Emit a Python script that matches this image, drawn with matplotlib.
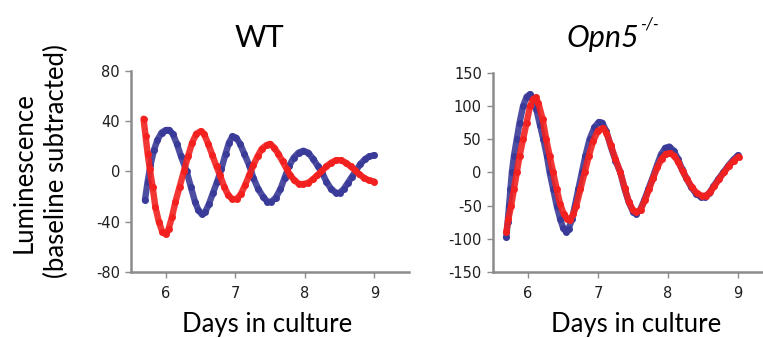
import matplotlib
matplotlib.use("Agg")
import matplotlib.pyplot as plt

plt.rcParams['font.family'] = ['Lato', 'DejaVu Sans']
plt.rcParams['axes.unicode_minus'] = False

# WT, blue trace
wt_blue_day = [5.70, 5.74, 5.78, 5.83, 5.88, 5.94, 6.00, 6.05, 6.10, 6.16, 6.22, 6.30, 6.36, 6.42,
               6.47, 6.52, 6.57, 6.62, 6.68, 6.74, 6.80, 6.86, 6.91, 6.96, 7.01, 7.07, 7.13, 7.20,
               7.26, 7.33, 7.40, 7.46, 7.52, 7.58, 7.65, 7.71, 7.77, 7.84, 7.91, 7.98, 8.05, 8.12,
               8.19, 8.25, 8.31, 8.38, 8.45, 8.50, 8.56, 8.62, 8.68, 8.74, 8.80, 8.87, 8.93, 9.00]
wt_blue_val = [-23, -8, 5, 17, 25, 31, 33, 33, 30, 22, 12, 0, -12, -24,
               -31, -34, -32, -26, -17, -8, 2, 14, 23, 28, 27, 22, 14, 5,
               -5, -14, -20, -24, -24, -21, -14, -5, 4, 11, 15, 16.5, 15, 10,
               4, -1, -8, -14, -17, -17, -14, -9, -4, 1, 6, 10, 12, 13]

# WT, red trace
wt_red_day = [5.68, 5.71, 5.74, 5.77, 5.81, 5.85, 5.90, 5.95, 6.00, 6.04, 6.09, 6.14, 6.20, 6.26,
              6.32, 6.38, 6.44, 6.50, 6.55, 6.61, 6.67, 6.73, 6.78, 6.84, 6.90, 6.96, 7.02, 7.08,
              7.14, 7.20, 7.26, 7.32, 7.38, 7.45, 7.50, 7.56, 7.62, 7.68, 7.74, 7.79, 7.85, 7.92,
              7.98, 8.05, 8.12, 8.18, 8.24, 8.31, 8.38, 8.45, 8.52, 8.59, 8.66, 8.72, 8.78, 8.85,
              8.92, 9.00]
wt_red_val = [42, 28, 14, 2, -12, -28, -40, -48, -50, -46, -36, -24, -12, 0,
              12, 23, 30, 32, 30, 22, 13, 4, -3, -12, -19, -22, -22, -18,
              -11, -3, 5, 12, 18, 21, 22, 19, 14, 8, 2, -3, -7, -10,
              -10, -9, -6, -3, 0, 4, 7, 9, 9, 7, 4, 1, -2, -5,
              -7, -8]

# Opn5-/-, blue trace
ko_blue_day = [5.69, 5.71, 5.73, 5.75, 5.77, 5.80, 5.84, 5.88, 5.93, 5.98, 6.03, 6.07, 6.12, 6.17,
               6.22, 6.27, 6.31, 6.36, 6.41, 6.46, 6.50, 6.54, 6.58, 6.63, 6.67, 6.72, 6.77, 6.82,
               6.88, 6.95, 7.01, 7.06, 7.12, 7.18, 7.25, 7.32, 7.38, 7.44, 7.50, 7.54, 7.60, 7.66,
               7.72, 7.78, 7.84, 7.90, 7.96, 8.02, 8.08, 8.14, 8.20, 8.26, 8.33, 8.40, 8.47, 8.53,
               8.59, 8.65, 8.72, 8.79, 8.86, 8.93, 9.00]
ko_blue_val = [-98, -75, -50, -25, 0, 25, 50, 75, 100, 114, 118, 112, 95, 72,
               50, 25, 0, -25, -50, -70, -83, -89, -85, -70, -50, -25, 0, 25,
               50, 68, 76, 75, 62, 40, 18, 0, -25, -45, -59, -62, -57, -42,
               -25, -8, 10, 27, 37, 39, 33, 21, 5, -8, -22, -32, -37, -37,
               -31, -21, -10, 0, 10, 19, 26]

# Opn5-/-, red trace
ko_red_day = [5.69, 5.72, 5.76, 5.80, 5.84, 5.88, 5.93, 5.98, 6.03, 6.07, 6.11, 6.15, 6.21, 6.26,
              6.31, 6.36, 6.41, 6.46, 6.51, 6.56, 6.60, 6.65, 6.69, 6.75, 6.81, 6.87, 6.93, 7.00,
              7.07, 7.12, 7.18, 7.25, 7.32, 7.38, 7.44, 7.50, 7.55, 7.61, 7.67, 7.73, 7.79, 7.85,
              7.91, 7.97, 8.03, 8.09, 8.15, 8.21, 8.27, 8.34, 8.41, 8.48, 8.54, 8.60, 8.66, 8.73,
              8.80, 8.87, 8.94, 9.01]
ko_red_val = [-90, -70, -50, -25, 0, 25, 50, 75, 100, 110, 113, 104, 80, 50,
              25, 0, -25, -48, -62, -70, -72, -62, -50, -25, 0, 25, 47, 63,
              67, 60, 42, 20, 0, -23, -44, -57, -60, -56, -42, -25, -8, 8,
              21, 28, 29, 25, 15, 2, -10, -22, -31, -35, -35, -30, -21, -10,
              0, 10, 18, 24]

day_ticks = [6, 7, 8, 9]
wt_yticks = [-80, -40, 0, 40, 80]
ko_yticks = [-150, -100, -50, 0, 50, 100, 150]

blue = '#3a3a98'
red = '#f2211f'
axis_col = '#8c8c8c'

fig = plt.figure(figsize=(7.63, 3.38), dpi=100)
ax1 = fig.add_axes([0.1717, 0.1953, 0.3644, 0.5947])
ax2 = fig.add_axes([0.6461, 0.1953, 0.367, 0.589])


def style(ax, yticks):
    ax.set_xlim(5.5, 9.5)
    ax.set_ylim(yticks[0], yticks[-1])
    ax.set_xticks(day_ticks)
    ax.set_yticks(yticks)
    for s in ['top', 'right']:
        ax.spines[s].set_visible(False)
    for s in ['left', 'bottom']:
        ax.spines[s].set_color(axis_col)
        ax.spines[s].set_linewidth(1.8)
    ax.tick_params(direction='out', length=4, width=1, color=axis_col,
                   labelcolor='#1e1e1e', pad=4)
    ax.tick_params(axis='x', pad=6)
    for lab in ax.get_xticklabels() + ax.get_yticklabels():
        lab.set_fontfamily('DejaVu Sans')
        lab.set_fontsize(10.5)


def trace(ax, d, v, c):
    ax.plot(d, v, color=c, lw=4.6, alpha=0.9, solid_capstyle='round')
    ax.plot(d, v, 'o', color=c, ms=5, mew=0)


trace(ax1, wt_blue_day, wt_blue_val, blue)
trace(ax1, wt_red_day, wt_red_val, red)
style(ax1, wt_yticks)

trace(ax2, ko_blue_day, ko_blue_val, blue)
trace(ax2, ko_red_day, ko_red_val, red)
style(ax2, ko_yticks)

fig.text(259 / 763, 1 - 47 / 338, 'WT', ha='center', va='baseline', fontsize=22)
t = fig.text(567 / 763, 1 - 47 / 338, 'Opn5', ha='left', va='baseline', fontsize=22, style='italic')
fig.canvas.draw()
bb = t.get_window_extent()
fig.text(bb.x1 / 763, 1 - 30 / 338, '-/-', ha='left', va='baseline', fontsize=12, style='italic')

fig.text(267 / 763, 1 - 332 / 338, 'Days in culture', ha='center', va='baseline', fontsize=18.5)
fig.text(636 / 763, 1 - 332 / 338, 'Days in culture', ha='center', va='baseline', fontsize=18.5)

fig.text(24 / 763, 1 - 173 / 338, 'Luminescence', rotation=90, ha='center', va='center', fontsize=18.5)
fig.text(56 / 763, 1 - 161 / 338, '(baseline subtracted)', rotation=90, ha='center', va='center', fontsize=18.5)

fig.savefig('out.png', dpi=100, facecolor='white')
